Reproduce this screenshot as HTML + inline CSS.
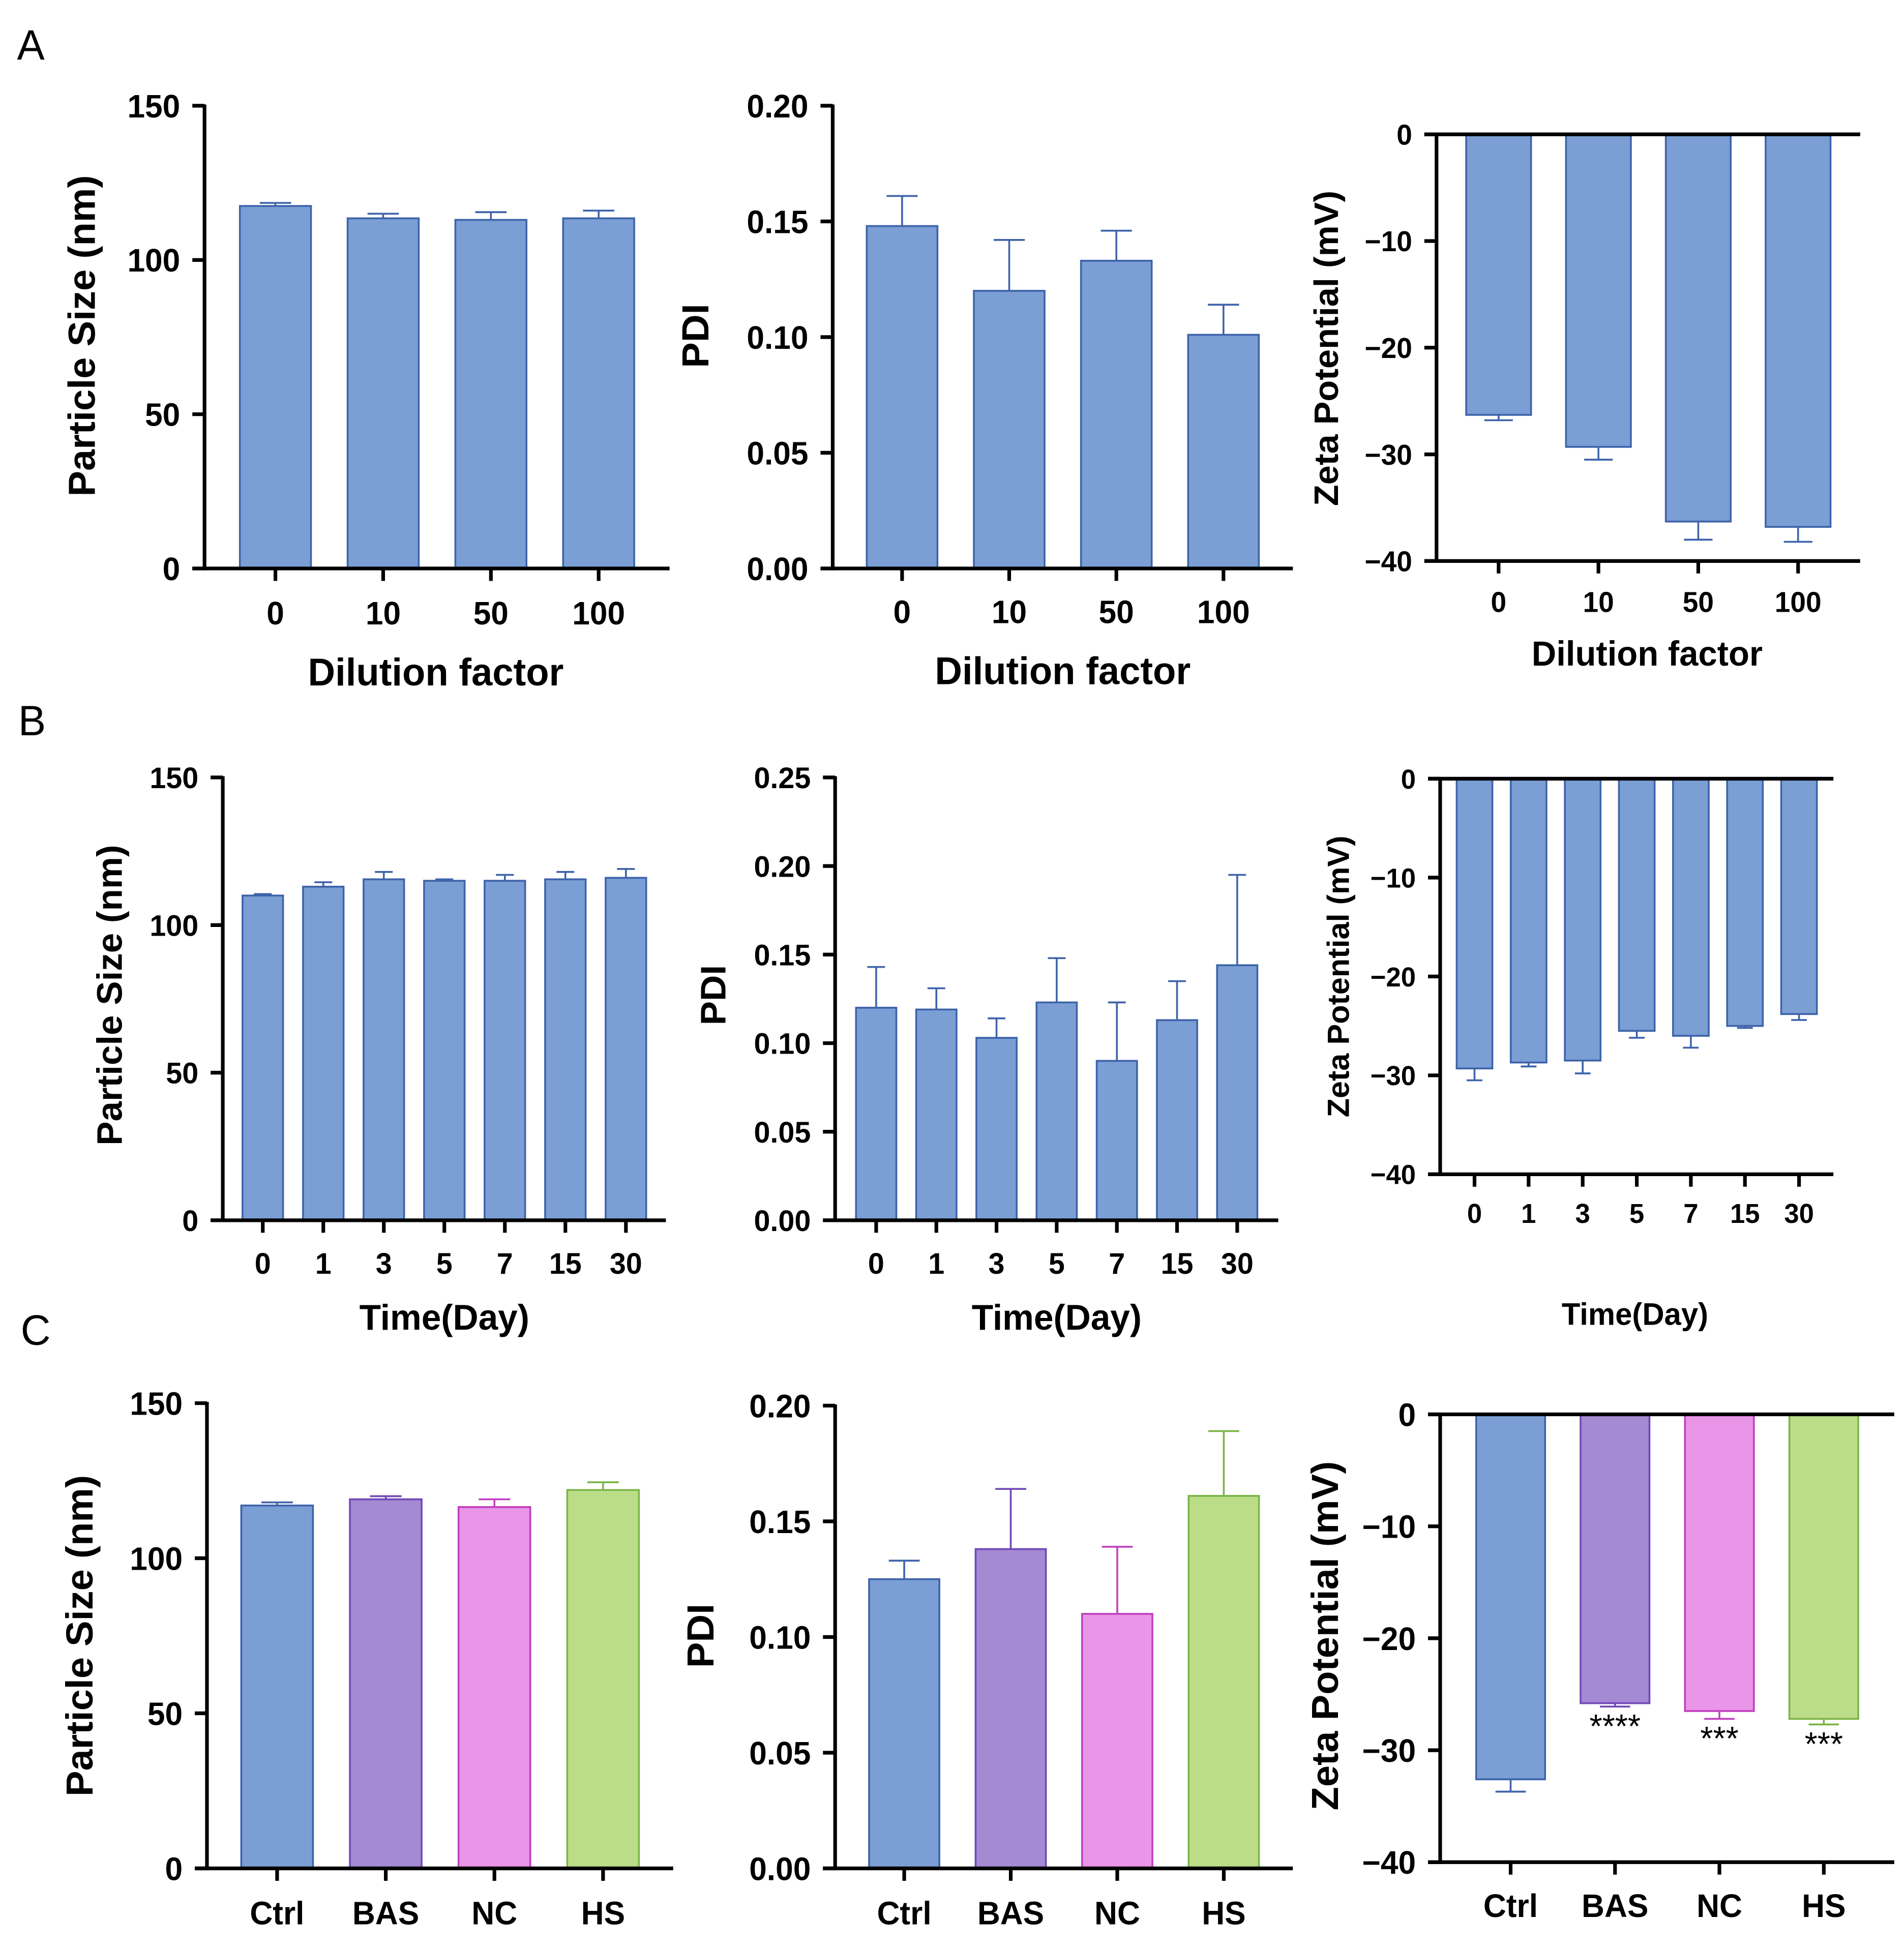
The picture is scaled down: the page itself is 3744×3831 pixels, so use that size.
<!DOCTYPE html>
<html><head><meta charset="utf-8"><style>
html,body{margin:0;padding:0;background:#fff}
svg{display:block}
text{font-family:"Liberation Sans",Arial,sans-serif;font-weight:bold;fill:#000}
</style></head><body>
<svg id="fig" width="3744" height="3831" viewBox="0 0 1564 1566" preserveAspectRatio="none" xmlns="http://www.w3.org/2000/svg">
<text x="14" y="48" font-size="34" style="font-weight:normal">A</text>
<text x="15" y="591" font-size="34" style="font-weight:normal">B</text>
<text x="17" y="1081" font-size="34" style="font-weight:normal">C</text>
</svg>
<script>
// Data arrays
const dilutionCats = ["0","10","50","100"];
const dayCats = ["0","1","3","5","7","15","30"];
const groupCats = ["Ctrl","BAS","NC","HS"];
const a1Vals = [117.5,113.5,113,113.5];
const a1Err = [1,1.5,2.5,2.5];
const a2Vals = [0.148,0.120,0.133,0.101];
const a2Err = [0.013,0.022,0.013,0.013];
const a3Vals = [-26.3,-29.3,-36.3,-36.8];
const a3Err = [0.5,1.2,1.7,1.4];
const b1Vals = [110,113,115.5,115,115,115.5,116];
const b1Err = [0.5,1.5,2.5,0.5,2,2.5,3];
const b2Vals = [0.120,0.119,0.103,0.123,0.090,0.113,0.144];
const b2Err = [0.023,0.012,0.011,0.025,0.033,0.022,0.051];
const b3Vals = [-29.3,-28.7,-28.5,-25.5,-26,-25,-23.8];
const b3Err = [1.2,0.4,1.3,0.7,1.2,0.2,0.6];
const c1Vals = [117,119,116.5,122];
const c1Err = [1,1,2.5,2.5];
const c2Vals = [0.125,0.138,0.110,0.161];
const c2Err = [0.008,0.026,0.029,0.028];
const c3Vals = [-32.6,-25.8,-26.5,-27.2];
const c3Err = [1.1,0.3,0.7,0.5];
const c3Stars = ["","****","***","***"];
const sizeTicks = [0,50,100,150];
const pdiTicks2 = [0,0.05,0.10,0.15,0.20];
const pdiTicks25 = [0,0.05,0.10,0.15,0.20,0.25];
const zetaTicks = [0,-10,-20,-30,-40];

const NS="http://www.w3.org/2000/svg";
const svg=document.getElementById('fig');
function mk(tag,attrs,parent){const e=document.createElementNS(NS,tag);for(const k in attrs)e.setAttribute(k,attrs[k]);(parent||svg).appendChild(e);return e;}
const BLUE={f:"#7b9fd4",s:"#3e63aa"};
const GROUP=[BLUE,{f:"#a38ad2",s:"#7148b8"},{f:"#e995e8",s:"#c040c0"},{f:"#bbdd88",s:"#7cb548"}];

function chart(o){
  const g=mk('g',{});
  
  
  const ymin=Math.min(...o.ticks), ymax=Math.max(...o.ticks);
  const y=v=>o.yb+(v-ymin)/(ymax-ymin)*(o.yt-o.yb);
  const n=o.cats.length;
  const step=(o.x1-o.x0-o.pad*2)/n;
  const xc=i=>o.x0+o.pad+step*(i+0.5);
  const bw=step*o.bwFrac;
  const neg=ymax<=0;
  o.vals.forEach((v,i)=>{
    const c=o.colors?o.colors[i]:BLUE;
    const y0=y(0), yv=y(v);
    const r=mk('rect',{x:xc(i)-bw/2,y:Math.min(y0,yv),width:bw,height:Math.abs(yv-y0),fill:c.f,stroke:c.s,'stroke-width':1.5},g);
    
    
    const ye=y(v+(neg?-o.err[i]:o.err[i]));
    const e=mk('path',{d:`M${xc(i)},${yv}V${ye}M${xc(i)-bw*0.22},${ye}H${xc(i)+bw*0.22}`,stroke:c.s,'stroke-width':1.5,fill:'none'},g);
    
    
    if(o.stars&&o.stars[i]){
      const t=mk('text',{x:xc(i),y:ye+25,'text-anchor':'middle','font-size':27,style:'font-weight:normal'},g);
      t.textContent=o.stars[i];
      
      
    }
  });
  mk('line',{x1:o.x0,y1:o.yt-1,x2:o.x0,y2:o.yb+1.5,stroke:'#000','stroke-width':3},g);
  const xaxY = o.yb;
  mk('line',{x1:o.x0-10,y1:xaxY,x2:o.x1,y2:xaxY,stroke:'#000','stroke-width':3},g);
  if(neg) mk('line',{x1:o.x0-10,y1:y(0),x2:o.x1,y2:y(0),stroke:'#000','stroke-width':3},g);
  o.ticks.forEach(t=>{
    mk('line',{x1:o.x0-10,y1:y(t),x2:o.x0,y2:y(t),stroke:'#000','stroke-width':3},g);
    const tx=mk('text',{x:o.x0-20,y:y(t)+o.fs*0.36,'text-anchor':'end','font-size':o.fs},g);
    tx.textContent=o.fmt?o.fmt(t):String(t).replace('-','\u2212');
    
    
  });
  o.cats.forEach((c,i)=>{
    mk('line',{x1:xc(i),y1:xaxY,x2:xc(i),y2:xaxY+10,stroke:'#000','stroke-width':3},g);
    const tx=mk('text',{x:xc(i),y:o.xly,'text-anchor':'middle','font-size':o.fs},g);
    tx.textContent=c;
    
    
  });
  if(o.xt){const t=mk('text',{x:o.xt[0],y:o.xt[1],'text-anchor':'middle','font-size':o.tfs||31},g);t.textContent=o.xt[2];
    }
  const yt=mk('text',{x:0,y:0,'text-anchor':'middle','font-size':o.tfs||31,transform:`translate(${o.ytp[0]},${o.ytp[1]}) rotate(-90)`},g);
  yt.textContent=o.ytp[2];
  
  
}
const f2=t=>t.toFixed(2);
chart({name:'chart-a-size',x0:168,x1:550,yt:85,yb:457,pad:14,bwFrac:0.66,cats:dilutionCats,vals:a1Vals,err:a1Err,ticks:sizeTicks,fs:26,xly:502,xt:[358,551,'Dilution factor'],ytp:[78,270,'Particle Size (nm)']});
chart({name:'chart-a-pdi',x0:684,x1:1062,yt:85,yb:457,pad:13,bwFrac:0.66,cats:dilutionCats,vals:a2Vals,err:a2Err,ticks:pdiTicks2,fs:26,fmt:f2,xly:501,xt:[873,550,'Dilution factor'],ytp:[582,270,'PDI']});
chart({name:'chart-a-zeta',x0:1180,x1:1528,yt:108,yb:451,pad:10,bwFrac:0.65,cats:dilutionCats,vals:a3Vals,err:a3Err,ticks:zetaTicks,fs:23,xly:492,xt:[1353,535,'Dilution factor'],ytp:[1099,280,'Zeta Potential (mV)'],tfs:28});
chart({name:'chart-b-size',x0:183,x1:547,yt:625,yb:981,pad:8,bwFrac:0.67,cats:dayCats,vals:b1Vals,err:b1Err,ticks:sizeTicks,fs:24,xly:1024,xt:[365,1069,'Time(Day)'],ytp:[100,800,'Particle Size (nm)'],tfs:29});
chart({name:'chart-b-pdi',x0:686,x1:1050,yt:625,yb:981,pad:9,bwFrac:0.67,cats:dayCats,vals:b2Vals,err:b2Err,ticks:pdiTicks25,fs:24,fmt:f2,xly:1024,xt:[868,1069,'Time(Day)'],ytp:[596,800,'PDI'],tfs:29});
chart({name:'chart-b-zeta',x0:1183,x1:1506,yt:626,yb:944,pad:6,bwFrac:0.66,cats:dayCats,vals:b3Vals,err:b3Err,ticks:zetaTicks,fs:22,xly:983,xt:[1343,1065,'Time(Day)'],ytp:[1108,785,'Zeta Potential (mV)'],tfs:25});
chart({name:'chart-c-size',x0:170,x1:553,yt:1128,yb:1502,pad:13,bwFrac:0.66,cats:groupCats,vals:c1Vals,err:c1Err,ticks:sizeTicks,fs:26,xly:1547,ytp:[76,1315,'Particle Size (nm)']  ,colors:GROUP});
chart({name:'chart-c-pdi',x0:686,x1:1062,yt:1130,yb:1502,pad:13,bwFrac:0.66,cats:groupCats,vals:c2Vals,err:c2Err,ticks:pdiTicks2,fs:26,fmt:f2,xly:1547,ytp:[586,1315,'PDI'],colors:GROUP});
chart({name:'chart-c-zeta',x0:1183,x1:1556,yt:1137,yb:1497,pad:15,bwFrac:0.66,cats:groupCats,vals:c3Vals,err:c3Err,ticks:zetaTicks,fs:26,xly:1541,ytp:[1099,1315,'Zeta Potential (mV)'],colors:GROUP,stars:c3Stars});
</script>
</body></html>
